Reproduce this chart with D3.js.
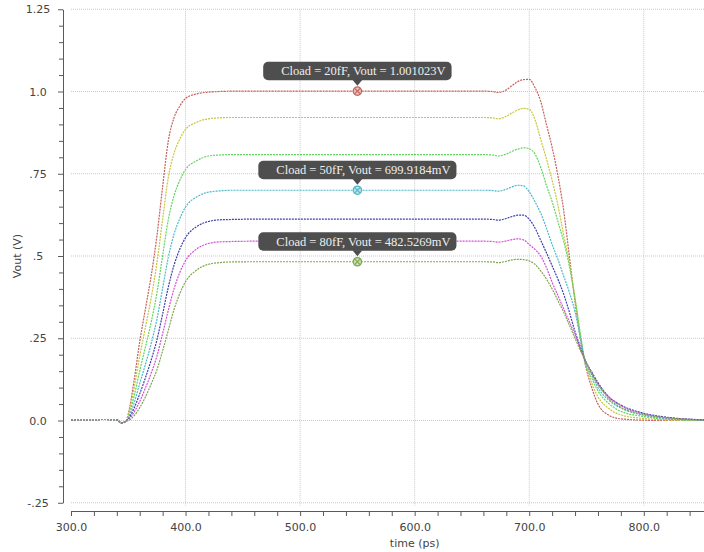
<!DOCTYPE html>
<html>
<head>
<meta charset="utf-8">
<script src="https://cdn.jsdelivr.net/npm/d3@7"></script>
<style>
  html, body { margin: 0; padding: 0; background: #fff; }
  svg { display: block; }
</style>
</head>
<body>
<svg id="chart" width="704" height="552"></svg>
<script>
// ---- data ----
const times = [300,330,340,344,348,350,355,360,365,370,375,380,385,390,395,400,410,420,430,440,460,500,600,660,668,673,680,685,690,695,700,705,710,715,720,725,730,735,740,745,748,755,760,770,780,800,820,853];

const v20 = [.002,.003,.002,-.008,-.002, .02,.12,.24,.34,.44, .561,.711,.851,.921,.956, .979,.993,.998,1.0,1.001, 1.001,1.001,1.001,1.001,1.0, .997,1.005,1.018,1.03,1.036, 1.037,1.012,.97,.9,.83, .745,.64,.5,.36,.24, .185,.095,.05,.015,.005, .001,0,0];
const v30 = [.002,.003,.002,-.008,-.002, .016,.097,.196,.284,.373, .479,.612,.74,.813,.856, .885,.907,.917,.92,.921, .921,.921,.921,.921,.92, .917,.925,.935,.944,.949, .946,.915,.855,.795,.73, .655,.565,.48,.37,.25, .19,.11,.072,.035,.017, .006,.002,0];
const v40 = [.002,.003,.002,-.008,-.002, .011,.073,.151,.224,.299, .388,.501,.612,.684,.73, .763,.79,.804,.807,.808, .808,.808,.808,.808,.807, .804,.81,.818,.825,.829, .826,.81,.77,.715,.665, .605,.545,.47,.37,.255, .19,.125,.09,.05,.028, .012,.004,.001];
const v50 = [.002,.003,.002,-.008,-.002, .007,.052,.112,.171,.234, .308,.402,.497,.567,.614, .649,.68,.694,.698,.6999, .6999,.6999,.6999,.6999,.699, .697,.703,.71,.715,.713, .695,.665,.63,.585,.535, .49,.44,.39,.33,.245, .19,.135,.1,.06,.038, .016,.006,.001];
const v60 = [.002,.003,.002,-.008,-.002, .004,.037,.081,.13,.184, .245,.324,.406,.473,.521, .556,.59,.605,.61,.611, .612,.612,.612,.612,.611, .609,.614,.62,.624,.624, .612,.585,.548,.51,.47, .43,.385,.33,.27,.22, .19,.145,.115,.07,.047, .022,.01,.002];
const v70 = [.002,.003,.002,-.008,-.002, .002,.025,.058,.099,.144, .196,.264,.336,.401,.45, .486,.522,.538,.543,.544, .545,.545,.545,.545,.544, .542,.546,.55,.552,.549, .535,.52,.5,.465,.42, .38,.34,.3,.26,.215, .19,.14,.11,.07,.045, .02,.008,.002];
const v80 = [.002,.003,.002,-.008,-.002, 0,.014,.039,.072,.111, .154,.212,.275,.338,.386, .422,.458,.475,.48,.482, .4825,.4825,.4825,.4825,.482, .48,.484,.488,.49,.489, .485,.475,.455,.43,.4, .365,.33,.29,.25,.21, .19,.14,.11,.065,.04, .018,.008,.002];

const loads = ["20fF","30fF","40fF","50fF","60fF","70fF","80fF"];
const seriesValues = [v20, v30, v40, v50, v60, v70, v80];
const colors = ["#c4625c","#c9c43e","#5ed65e","#4cb9c9","#3e3eae","#d34fd3","#7fa84c"];

const xTickValues = [300,400,500,600,700,800];
const yTickValues = [1.25,1.0,0.75,0.5,0.25,0.0,-0.25];
const yTickLabels = ["1.25","1.0",".75",".5",".25","0.0","-.25"];

const markerTime = 550;
const markerSeries = [0, 3, 6];
const markerValues = [1.001023, 0.6999184, 0.4825269];
const markerLabels = ["Cload = 20fF, Vout = 1.001023V","Cload = 50fF, Vout = 699.9184mV","Cload = 80fF, Vout = 482.5269mV"];

// ---- layout ----
const svg = d3.select("#chart");
const x = d3.scaleLinear().domain([300, 853]).range([71, 704.5]);
const y = d3.scaleLinear().domain([-0.25, 1.25]).range([502.75, 9.25]);
const yAxisX = 63, xAxisY = 511;
const gridColor = "#c9c9c9";
const axisColor = "#5a5a5a";
const fontAxis = "'DejaVu Sans', Verdana, sans-serif";

// grid
const grid = svg.append("g");
grid.selectAll("line.h").data(yTickValues).join("line")
  .attr("x1", 71).attr("x2", 704)
  .attr("y1", d => y(d)).attr("y2", d => y(d))
  .attr("stroke", gridColor).attr("stroke-width", 1).attr("stroke-dasharray", "1,1");
grid.selectAll("line.v").data(xTickValues.filter(d => d > 300)).join("line")
  .attr("x1", d => x(d)).attr("x2", d => x(d))
  .attr("y1", y(1.25)).attr("y2", y(-0.25) + 3)
  .attr("stroke", gridColor).attr("stroke-width", 1).attr("stroke-dasharray", "1,1");

// y axis
const yMinor = d3.range(-0.25, 1.2501, 0.05).map(d => +d.toFixed(2)).filter(d => !yTickValues.includes(d));
const gy = svg.append("g").attr("transform", `translate(${yAxisX},0)`);
gy.call(d3.axisLeft(y).tickValues(yTickValues).tickSize(5).tickSizeOuter(0)
  .tickFormat((d, i) => yTickLabels[i]));
gy.append("g").call(d3.axisLeft(y).tickValues(yMinor).tickSize(4).tickFormat(""))
  .select(".domain").remove();
gy.selectAll("path, line").attr("stroke", axisColor);
gy.selectAll("text").attr("x", 38 - yAxisX).attr("text-anchor", "middle")
  .attr("font-family", fontAxis).attr("font-size", 11).attr("fill", "#444");

// x axis
const xMinor = d3.range(320, 853, 20).filter(d => !xTickValues.includes(d));
const gx = svg.append("g").attr("transform", `translate(0,${xAxisY})`);
gx.call(d3.axisBottom(x).tickValues(xTickValues).tickSize(5).tickSizeOuter(0).tickPadding(7)
  .tickFormat(d => d.toFixed(1)));
gx.append("g").call(d3.axisBottom(x).tickValues(xMinor).tickSize(5).tickFormat(""))
  .select(".domain").remove();
gx.selectAll("path, line").attr("stroke", axisColor);
gx.selectAll("text").attr("font-family", fontAxis).attr("font-size", 11).attr("fill", "#444");

// axis titles
svg.append("text").attr("x", x(600)).attr("y", 547).attr("text-anchor", "middle")
  .attr("font-family", fontAxis).attr("font-size", 11).attr("fill", "#444").text("time (ps)");
svg.append("text").attr("transform", `translate(21,${y(0.5)}) rotate(-90)`).attr("text-anchor", "middle")
  .attr("font-family", fontAxis).attr("font-size", 11).attr("fill", "#444").text("Vout (V)");

// curves
const line = d3.line().x(d => x(d[0])).y(d => y(d[1])).curve(d3.curveMonotoneX);
const curves = svg.append("g");
seriesValues.forEach((vals, i) => {
  curves.append("path")
    .datum(times.map((t, j) => [t, vals[j]]))
    .attr("fill", "none")
    .attr("stroke", colors[i])
    .attr("stroke-width", 1.2)
    .attr("stroke-dasharray", "2,1")
    .attr("d", line)
    .append("title").text("Cload = " + loads[i]);
});

// markers + tooltips
const tips = svg.append("g");
markerSeries.forEach((si, k) => {
  const mx = x(markerTime), my = y(markerValues[k]);
  const g = tips.append("g");
  const txt = g.append("text")
    .attr("font-family", "'Liberation Serif', 'DejaVu Serif', serif")
    .attr("font-size", 12.5).attr("fill", "#eeeeee")
    .text(markerLabels[k]);
  const tw = txt.node().getComputedTextLength();
  const bw = tw + 24, bh = 18.5;
  const bx = mx - bw / 2, by = my - 29.5;
  g.insert("rect", "text").attr("x", bx).attr("y", by).attr("width", bw).attr("height", bh)
    .attr("rx", 5).attr("ry", 5).attr("fill", "#4e4e4e");
  g.insert("path", "text")
    .attr("d", `M${mx - 5},${by + bh - 0.5} L${mx},${by + bh + 5.5} L${mx + 5},${by + bh - 0.5} Z`)
    .attr("fill", "#4e4e4e");
  txt.attr("x", bx + 18).attr("y", by + 13.3);
  const c = d3.color(colors[si]);
  const m = g.append("g").attr("transform", `translate(${mx},${my})`);
  m.append("circle").attr("r", 4.2).attr("fill", d3.interpolateRgb(c, "#fff")(0.6))
    .attr("stroke", colors[si]).attr("stroke-width", 1.2);
  m.append("path").attr("d", "M-2.8,-2.8L2.8,2.8M-2.8,2.8L2.8,-2.8")
    .attr("stroke", colors[si]).attr("stroke-width", 1.1);
});
</script>
</body>
</html>
